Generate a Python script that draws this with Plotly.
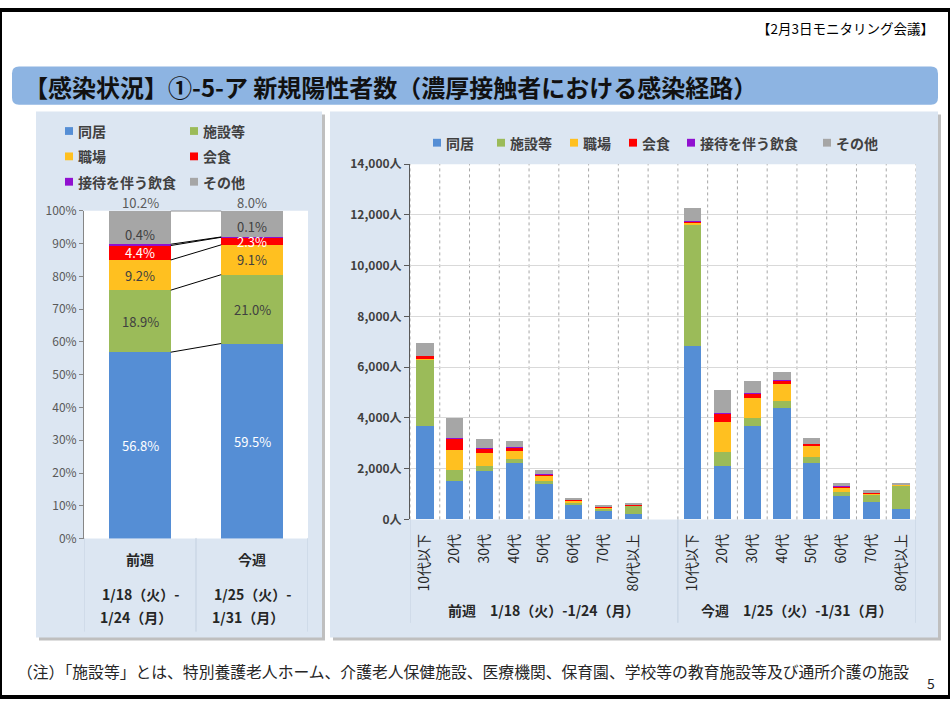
import plotly.graph_objects as go

# ---------------- data ----------------
series = ["同居", "施設等", "職場", "会食", "接待を伴う飲食", "その他"]
colors = ["#558ED5", "#9BBB59", "#FFC020", "#FF0000", "#9010D0", "#A6A6A6"]

week_labels = ["前週", "今週"]
week_start = ["1/18（火）-", "1/25（火）-"]
week_end = ["1/24（月）", "1/31（月）"]
pct_prev = [56.8, 18.9, 9.2, 4.4, 0.4, 10.2]
pct_curr = [59.5, 21.0, 9.1, 2.3, 0.1, 8.0]

age_labels = ["10代以下", "20代", "30代", "40代", "50代", "60代", "70代", "80代以上"]
group_titles = ["前週　1/18（火）-1/24（月）", "今週　1/25（火）-1/31（月）"]
prev_counts = {
    "同居":         [3700, 1510, 1920, 2240, 1400, 550, 345, 205],
    "施設等":       [2610, 450, 170, 140, 115, 90, 75, 330],
    "職場":         [30, 770, 525, 335, 205, 90, 50, 20],
    "会食":         [110, 450, 155, 130, 50, 40, 25, 10],
    "接待を伴う飲食": [5, 40, 40, 15, 10, 5, 5, 0],
    "その他":       [490, 795, 345, 230, 155, 85, 50, 50],
}
curr_counts = {
    "同居":         [6820, 2090, 3680, 4400, 2220, 935, 705, 410],
    "施設等":       [4810, 550, 310, 280, 245, 155, 255, 935],
    "職場":         [50, 1205, 795, 640, 425, 165, 65, 15],
    "会食":         [65, 320, 180, 130, 90, 50, 40, 20],
    "接待を伴う飲食": [10, 40, 25, 25, 5, 5, 5, 0],
    "その他":       [530, 895, 450, 330, 230, 115, 75, 70],
}

W, H = 950, 704
FONT = "Noto Sans CJK JP"


def px(x):
    return x / W


def py(y):
    return 1 - y / H


fig = go.Figure()

# ---------------- left: 100% stacked ----------------
LW = 0.55
weeks = [pct_prev, pct_curr]
norm = [[v / sum(w) * 100 for v in w] for w in weeks]
for i, name in enumerate(series):
    fig.add_trace(go.Bar(
        x=[0, 1], y=[norm[0][i], norm[1][i]], width=LW,
        marker=dict(color=colors[i], line=dict(width=0)),
        name=name, showlegend=False, xaxis="x", yaxis="y", hoverinfo="skip"))

cum = []
for w in norm:
    c, acc = [], 0
    for v in w:
        acc += v
        c.append(acc)
    cum.append(c)

# series lines
for k in range(len(series)):
    fig.add_trace(go.Scatter(
        x=[0 + LW / 2, 1 - LW / 2], y=[cum[0][k], cum[1][k]], mode="lines",
        line=dict(color="#000000", width=1), showlegend=False,
        hoverinfo="skip", xaxis="x", yaxis="y"))

annotations = []
label_colors = ["#FFFFFF", "#404040", "#404040", "#FFFFFF", "#404040", "#595959"]
for j, w in enumerate(weeks):
    for k, v in enumerate(w):
        lo = cum[j][k - 1] if k > 0 else 0
        hi = cum[j][k]
        txt = f"{v:.1f}%"
        if k == 4:
            annotations.append(dict(x=j, y=hi, xref="x", yref="y", text=txt,
                                    showarrow=False, yanchor="middle", yshift=10,
                                    font=dict(family=FONT, size=13, color=label_colors[k])))
        elif k == 5:
            annotations.append(dict(x=j, y=100, xref="x", yref="y", text=txt,
                                    showarrow=False, yanchor="bottom", yshift=-3,
                                    font=dict(family=FONT, size=13, color=label_colors[k])))
        else:
            annotations.append(dict(x=j, y=(lo + hi) / 2, xref="x", yref="y", text=txt,
                                    showarrow=False, yanchor="middle",
                                    font=dict(family=FONT, size=13, color=label_colors[k])))

for j in range(2):
    annotations.append(dict(x=j, y=py(563), xref="x", yref="paper", text=f"<b>{week_labels[j]}</b>",
                            showarrow=False, yanchor="middle",
                            font=dict(family=FONT, size=14, color="#262626")))
    annotations.append(dict(x=j, y=py(598), xref="x", yref="paper", text=f"<b>{week_start[j]}</b>",
                            showarrow=False, yanchor="middle",
                            font=dict(family=FONT, size=14, color="#262626")))
    annotations.append(dict(x=j, y=py(622), xref="x", yref="paper", text=f"<b>{week_end[j]}</b>",
                            showarrow=False, yanchor="middle", xshift=-4,
                            font=dict(family=FONT, size=14, color="#262626")))

# ---------------- right: stacked counts ----------------
RW = 0.58
n = len(age_labels)
x_prev = list(range(n))
x_curr = [i + n + 1 for i in range(n)]
xs = x_prev + x_curr
for i, name in enumerate(series):
    fig.add_trace(go.Bar(
        x=xs, y=prev_counts[name] + curr_counts[name], width=RW,
        marker=dict(color=colors[i], line=dict(width=0)),
        name=name, showlegend=False, xaxis="x2", yaxis="y2", hoverinfo="skip"))

total_slots = 2 * n + 1
group_centers = [(x_prev[0] - 0.5 + n + 0.5) / 2, (x_curr[0] - 0.5 + x_curr[-1] + 0.5) / 2]
for j in range(2):
    annotations.append(dict(x=group_centers[j], y=py(615), xref="x2", yref="paper",
                            text=f"<b>{group_titles[j]}</b>", showarrow=False, yanchor="middle",
                            font=dict(family=FONT, size=14, color="#262626")))

# ---------------- shapes ----------------
shapes = []
for (x0, y0, x1, y1) in [(36, 104, 322, 643), (330, 104, 938, 643)]:
    shapes.append(dict(type="rect", xref="paper", yref="paper", x0=px(x0 + 3), x1=px(x1 + 3),
                       y0=py(y1 + 3), y1=py(y0 + 3), fillcolor="#BFBFBF", line=dict(width=0), layer="below"))
    shapes.append(dict(type="rect", xref="paper", yref="paper", x0=px(x0), x1=px(x1),
                       y0=py(y1), y1=py(y0), fillcolor="#DCE6F2", line=dict(width=0), layer="below"))
shapes.append(dict(type="rect", xref="x domain", yref="y domain", x0=0, x1=1, y0=0, y1=1,
                   fillcolor="#FFFFFF", line=dict(width=0), layer="below"))
shapes.append(dict(type="rect", xref="x2 domain", yref="y2 domain", x0=0, x1=1, y0=0, y1=1,
                   fillcolor="#FFFFFF", line=dict(width=0), layer="below"))


def rounded(x0, y0, x1, y1, r):
    X0, X1, Y0, Y1 = px(x0), px(x1), py(y1), py(y0)
    rx, ry = r / W, r / H
    return (f"M {X0+rx},{Y1} L {X1-rx},{Y1} Q {X1},{Y1} {X1},{Y1-ry} "
            f"L {X1},{Y0+ry} Q {X1},{Y0} {X1-rx},{Y0} L {X0+rx},{Y0} "
            f"Q {X0},{Y0} {X0},{Y0+ry} L {X0},{Y1-ry} Q {X0},{Y1} {X0+rx},{Y1} Z")


shapes.append(dict(type="path", xref="paper", yref="paper", path=rounded(12, 58, 938, 97, 7),
                   fillcolor="#8DB4E2", line=dict(width=0), layer="below"))

for b in range(total_slots + 1):
    shapes.append(dict(type="line", xref="x2", yref="y2 domain", x0=b - 0.5, x1=b - 0.5, y0=0, y1=1,
                       line=dict(color="#A6A6A6", width=1, dash="dot"), layer="below"))
for b in [-0.5, 0.5, 1.5]:
    shapes.append(dict(type="line", xref="x", yref="paper", x0=b, x1=b, y0=py(541), y1=py(637),
                       line=dict(color="#C3D0E0", width=1), layer="below"))
for b in [-0.5, n + 0.5, total_slots - 0.5]:
    shapes.append(dict(type="line", xref="x2", yref="paper", x0=b, x1=b, y0=py(522), y1=py(628),
                       line=dict(color="#C3D0E0", width=1), layer="below"))

left_pos = [(65, 124), (190, 124), (65, 150), (190, 150), (65, 176), (190, 176)]
right_pos = [(433, 136), (497, 136), (570, 136), (629, 136), (687, 136), (823, 136)]
for pos in (left_pos, right_pos):
    for i, (lx, ly) in enumerate(pos):
        shapes.append(dict(type="rect", xref="paper", yref="paper", x0=px(lx), x1=px(lx + 8),
                           y0=py(ly + 4), y1=py(ly - 4), fillcolor=colors[i], line=dict(width=0)))
        annotations.append(dict(x=px(lx + 11), y=py(ly), xref="paper", yref="paper", xanchor="left",
                                yanchor="middle", text=f"<b>{series[i]}</b>", showarrow=False,
                                font=dict(family=FONT, size=14, color="#404040")))

shapes.append(dict(type="rect", xref="paper", yref="paper", x0=0, x1=1, y0=0, y1=1,
                   line=dict(color="#000000", width=4), fillcolor="rgba(0,0,0,0)", layer="above"))

annotations += [
    dict(x=px(22), y=py(78), xref="paper", yref="paper", xanchor="left", yanchor="middle",
         text="<b>【感染状況】①-5-ア 新規陽性者数（濃厚接触者における感染経路）</b>", showarrow=False,
         font=dict(family=FONT, size=24, color="#111111")),
    dict(x=px(936), y=py(18), xref="paper", yref="paper", xanchor="right", yanchor="middle",
         text="【2月3日モニタリング会議】", showarrow=False,
         font=dict(family=FONT, size=13.5, color="#000000")),
    dict(x=px(15), y=py(678), xref="paper", yref="paper", xanchor="left", yanchor="middle",
         text="（注）「施設等」とは、特別養護老人ホーム、介護老人保健施設、医療機関、保育園、学校等の教育施設等及び通所介護の施設",
         showarrow=False, font=dict(family=FONT, size=15.8, color="#262626")),
    dict(x=px(937), y=py(690), xref="paper", yref="paper", xanchor="right", yanchor="middle",
         text="5", showarrow=False, font=dict(family=FONT, size=14, color="#262626")),
]

fig.update_layout(
    width=W, height=H, margin=dict(l=0, r=0, t=0, b=0),
    paper_bgcolor="#FFFFFF", plot_bgcolor="rgba(0,0,0,0)",
    barmode="stack", showlegend=False,
    font=dict(family=FONT),
    xaxis=dict(domain=[px(84), px(308)], range=[-0.5, 1.5], anchor="y",
               showticklabels=False, showgrid=False, zeroline=False, showline=False, fixedrange=True),
    yaxis=dict(domain=[py(541.7), py(205.7)], range=[0, 100], anchor="x", dtick=10, ticksuffix="%",
               showline=True, linecolor="#868686", linewidth=1, ticks="outside", ticklen=4,
               tickcolor="#868686", showgrid=False, zeroline=False,
               tickfont=dict(family=FONT, size=12, color="#595959"), fixedrange=True),
    xaxis2=dict(domain=[px(410), px(916)], range=[-0.5, total_slots - 0.5], anchor="y2",
                tickmode="array", tickvals=xs, ticktext=age_labels * 2, tickangle=-90,
                ticks="outside", ticklen=8, tickcolor="rgba(0,0,0,0)",
                tickfont=dict(family=FONT, size=14, color="#262626"),
                showgrid=False, zeroline=False, showline=False, fixedrange=True),
    yaxis2=dict(domain=[py(522), py(158)], range=[0, 14000], anchor="x2", dtick=2000,
                tickformat=",", ticksuffix="人", showgrid=True, gridcolor="#D9D9D9", gridwidth=1,
                showline=True, linecolor="#595959", linewidth=1, ticks="outside", ticklen=5,
                tickcolor="#595959", zeroline=False,
                tickfont=dict(family=FONT, size=12, color="#404040", weight="bold"), fixedrange=True),
    shapes=shapes, annotations=annotations,
)

fig.write_html(
    "out.html",
    config={"displayModeBar": False, "responsive": False},
    post_script=(
        "document.body.style.margin='0';document.body.style.padding='0';"
        "document.body.style.overflow='hidden';document.documentElement.style.overflow='hidden';"
    ),
)
